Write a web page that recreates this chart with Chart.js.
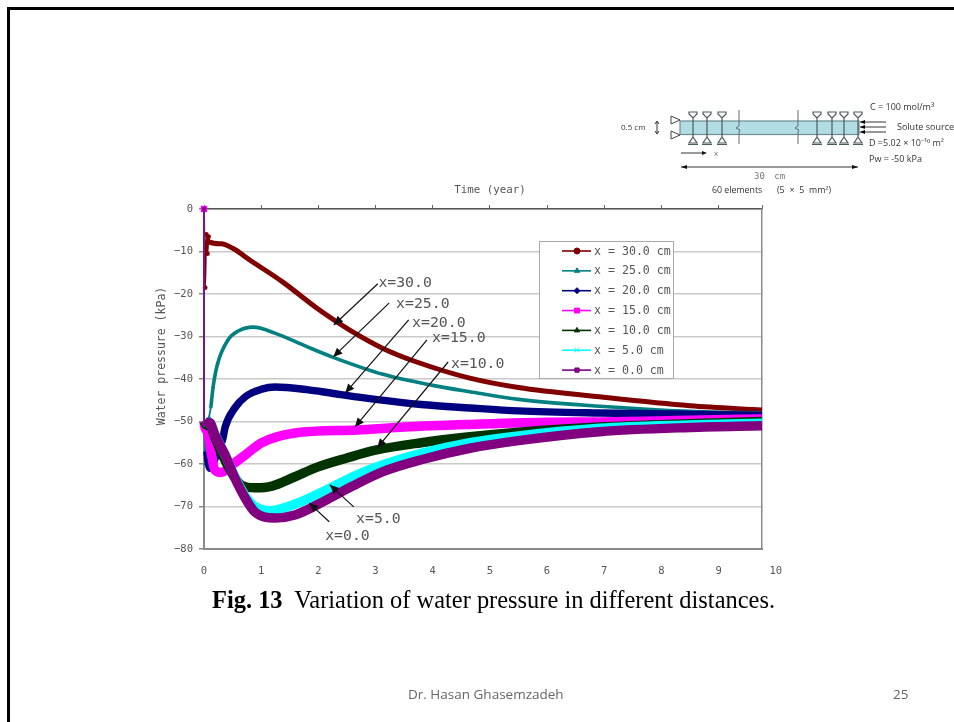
<!DOCTYPE html>
<html>
<head>
<meta charset="utf-8">
<script src="https://cdn.jsdelivr.net/npm/chart.js@4"></script>
<style>
  html, body { margin: 0; padding: 0; background: #fff; width: 954px; height: 722px; overflow: hidden; }
  #plot { position: absolute; left: 0; top: 0; filter: blur(0.35px); }
  .frame { position: absolute; background: #000; }
  .txt { position: absolute; white-space: nowrap; }
  #caption { left: 212px; top: 586px; font: 24.45px "Liberation Serif", serif; color: #000; }
  #author { left: 408px; top: 685px; font: 13.5px "Open Sans", sans-serif; color: #666; }
  #page { left: 893px; top: 685px; font: 13.5px "Open Sans", sans-serif; color: #666; }
  #sketch { position: absolute; left: 600px; top: 95px; filter: blur(0.45px); }
</style>
</head>
<body>
<div class="frame" style="left:7px;top:7px;width:947px;height:3px"></div>
<div class="frame" style="left:7px;top:7px;width:3px;height:715px"></div>

<svg id="sketch" width="354" height="105" viewBox="600 95 354 105" font-family="Open Sans, sans-serif" fill="#333">
  <rect x="680" y="121" width="179" height="13.5" fill="#b2dde4" stroke="#6d8a8e" stroke-width="1.2"/>
  <g id="rollers" stroke="#4b5a5c" stroke-width="1.2" fill="none"></g>
  <path d="M739 110V126l-3 2 4 2-1 2V144M798 110V126l-3 2 4 2-1 2V144" stroke="#667" stroke-width="1" fill="none"/>
  <path d="M671 116l9 4-9 4zM671 131l9 4-9 4z" fill="#fff" stroke="#444"/>
  <path d="M657 122v11M655 124l2-3 2 3M655 131l2 3 2-3" stroke="#333" fill="none"/>
  <path d="M860 122H886M860 127H886M860 132H886" stroke="#333"/>
  <path d="M860 122l5-2v4zM860 127l5-2v4zM860 132l5-2v4z" fill="#000"/>
  <path d="M681 153H703M681 167H858" stroke="#333"/>
  <path d="M707 153l-5-2v4zM681 167l6-2v4zM858 167l-6-2v4z" fill="#111"/>
  <text x="621" y="130" font-size="8">0.5 cm</text>
  <text x="870" y="110" font-size="9">C = 100 mol/m³</text>
  <text x="897" y="130" font-size="9">Solute source</text>
  <text x="869" y="146" font-size="9">D =5.02 × 10⁻¹⁰ m²</text>
  <text x="869" y="162" font-size="9">Pw = -50 kPa</text>
  <text x="714" y="156" font-size="8" fill="#777">x</text>
  <text x="754" y="179" font-size="9" word-spacing="4" font-family="DejaVu Sans Mono, monospace" fill="#777">30 cm</text>
  <text x="712" y="193" font-size="8.8">60 elements</text>
  <text x="777" y="193" font-size="8.8" word-spacing="2.5">(5 × 5 mm²)</text>
</svg>

<canvas id="plot" width="954" height="722"></canvas>

<div class="txt" id="caption"><b>Fig. 13</b>&nbsp; Variation of water pressure in different distances.</div>
<div class="txt" id="author">Dr. Hasan Ghasemzadeh</div>
<div class="txt" id="page">25</div>

<script>
// values
const seriesNames = ['x = 30.0 cm', 'x = 25.0 cm', 'x = 20.0 cm', 'x = 15.0 cm', 'x = 10.0 cm', 'x = 5.0 cm', 'x = 0.0 cm'];
const xTickValues = [0, 1, 2, 3, 4, 5, 6, 7, 8, 9, 10];

const timeX30 = [0, 0.02, 0.04, 0.06, 0.08, 0.1, 0.3, 0.51, 0.8, 1.38, 1.97, 2.55, 3.13, 3.72, 4.65, 5.5, 6.92, 8.5, 9.76];
const pressX30 = [0, -18.5, -6, -10.5, -6.5, -7.8, -8.2, -9.3, -12, -17.2, -23.3, -28.5, -32.8, -36, -39.8, -42, -44.2, -46.3, -47.3];

const timeX25 = [0, 0.02, 0.05, 0.09, 0.12, 0.16, 0.24, 0.42, 0.6, 0.86, 1.24, 1.8, 2.26, 3.13, 4, 4.65, 5.5, 6.92, 8.5, 9.76];
const pressX25 = [-50, -60, -55, -49, -46.6, -41.8, -36.3, -30.8, -28.7, -27.8, -29.2, -32.4, -34.9, -38.9, -41.5, -43, -44.8, -46.4, -47.6, -48];

const timeX20 = [0, 0.05, 0.1, 0.2, 0.33, 0.37, 0.54, 0.72, 1.01, 1.24, 1.8, 2.26, 3, 3.8, 4.65, 5.5, 6.92, 8.5, 9.76];
const pressX20 = [-50, -57, -61, -58.5, -54, -51.3, -46.8, -44.2, -42.4, -41.9, -42.5, -43.4, -44.8, -46, -46.8, -47.5, -48, -48.3, -48.6];

const timeX15 = [0, 0.001, 0.05, 0.12, 0.19, 0.3, 0.49, 0.72, 1.01, 1.59, 2.67, 3.5, 4.65, 6, 6.92, 8.5, 9.76];
const pressX15 = [0, -50, -52, -57, -61.4, -62, -60.2, -57.9, -55, -52.7, -52, -51.3, -50.7, -50.2, -50.1, -49.7, -49.4];

const timeX10 = [0, 0.001, 0.1, 0.2, 0.4, 0.66, 0.89, 1.19, 1.59, 1.97, 2.5, 3.02, 3.8, 4.65, 5.5, 6.92, 8.5, 9.76];
const pressX10 = [0, -50, -51, -54, -60, -65, -65.6, -65.2, -63, -60.8, -58.6, -56.7, -55, -53.6, -52.5, -51.3, -50.5, -50];

const timeX5 = [0, 0.001, 0.1, 0.19, 0.37, 0.54, 0.72, 0.89, 1.15, 1.56, 2.2, 2.6, 3.13, 3.8, 4.65, 5.5, 6.92, 8.5, 9.76];
const pressX5 = [0, -50, -50.3, -53, -57.9, -63, -67.5, -70, -71, -69.6, -65.7, -63, -60.2, -57.5, -55, -53.4, -51.6, -50.8, -50.4];

const timeX0 = [0, 0.001, 0.1, 0.19, 0.37, 0.54, 0.72, 0.89, 1.24, 1.59, 2.15, 2.6, 3.13, 3.8, 4.65, 5.5, 6.92, 8.5, 9.76];
const pressX0 = [0, -50, -50.3, -53.2, -57.9, -63.3, -68, -71.3, -72.7, -72, -68.4, -65.2, -61.8, -59, -56.3, -54.5, -52.4, -51.4, -51];

// arrow labels, positions in axis units
const calloutNames = ['x=30.0', 'x=25.0', 'x=20.0', 'x=15.0', 'x=10.0', 'x=5.0', 'x=0.0'];
const calloutTextT = [3.05, 3.36, 3.64, 3.99, 4.32, 2.66, 2.12];
const calloutTextP = [-17.4, -22.4, -26.8, -30.4, -36.5, -72.9, -76.9];
const arrowFromT = [3.04, 3.24, 3.58, 3.9, 4.27, 2.62, 2.19];
const arrowFromP = [-17.6, -22.1, -26.1, -30.8, -36, -70.1, -73.6];
const arrowTipT = [2.27, 2.26, 2.47, 2.64, 3.03, 2.2, 1.84];
const arrowTipP = [-27.3, -34.8, -43.3, -51.3, -56.2, -64.9, -69.2];

const mono = '"DejaVu Sans Mono", monospace';
const rollerX = [693, 707, 722, 817, 832, 844, 858];

// little supports of the sketch
document.getElementById('rollers').innerHTML = rollerX.map(x =>
  `<path d="M${x} 118V137M${x - 4} 112h8v2l-4 4-4-4zM${x - 4} 143h8l-4-6zM${x - 5} 144.5h10"/>`
).join('');

function pairs(ts, ps) {
  return ts.map((t, i) => ({ x: t, y: ps[i] }));
}

// the first segments (the jump at t = 0) are thin, the rest looks thick from the dense markers
function makeSeries(i, ts, ps, color, width, style, markerRadius, markedPoints, thinSegments, order) {
  return {
    label: seriesNames[i],
    data: pairs(ts, ps),
    borderColor: color,
    backgroundColor: color,
    borderWidth: width,
    borderJoinStyle: 'round',
    pointStyle: style,
    pointRadius: ctx => (ctx.dataIndex < markedPoints ? markerRadius : 0),
    pointBorderWidth: 0,
    cubicInterpolationMode: 'monotone',
    clip: false,
    segment: { borderWidth: ctx => (ctx.p0DataIndex < thinSegments ? 1.8 : undefined) },
    order: order,
  };
}

const legendAndNotes = {
  id: 'legendAndNotes',
  afterDatasetsDraw(chart) {
    const { ctx, scales } = chart;
    const sx = scales.x, sy = scales.y;
    ctx.save();

    // arrows
    arrowFromT.forEach((t, i) => {
      const x0 = sx.getPixelForValue(t), y0 = sy.getPixelForValue(arrowFromP[i]);
      const x1 = sx.getPixelForValue(arrowTipT[i]), y1 = sy.getPixelForValue(arrowTipP[i]);
      const a = Math.atan2(y1 - y0, x1 - x0);
      ctx.strokeStyle = '#111';
      ctx.fillStyle = '#111';
      ctx.lineWidth = 1.2;
      ctx.beginPath();
      ctx.moveTo(x0, y0);
      ctx.lineTo(x1, y1);
      ctx.stroke();
      ctx.beginPath();
      ctx.moveTo(x1, y1);
      ctx.lineTo(x1 - 10 * Math.cos(a - 0.42), y1 - 10 * Math.sin(a - 0.42));
      ctx.lineTo(x1 - 10 * Math.cos(a + 0.42), y1 - 10 * Math.sin(a + 0.42));
      ctx.closePath();
      ctx.fill();
    });

    // arrow labels
    ctx.font = '14.8px ' + mono;
    ctx.fillStyle = '#555';
    ctx.textBaseline = 'middle';
    ctx.textAlign = 'left';
    calloutNames.forEach((name, i) => {
      ctx.fillText(name, sx.getPixelForValue(calloutTextT[i]), sy.getPixelForValue(calloutTextP[i]));
    });

    // legend box
    ctx.fillStyle = '#fff';
    ctx.strokeStyle = '#aaa';
    ctx.lineWidth = 1;
    ctx.fillRect(539.5, 241.5, 134, 137);
    ctx.strokeRect(539.5, 241.5, 134, 137);
    chart.data.datasets.forEach((ds, i) => {
      const y = 251 + i * 19.85;
      ctx.strokeStyle = ds.borderColor;
      ctx.lineWidth = 1.6;
      ctx.beginPath();
      ctx.moveTo(562, y);
      ctx.lineTo(591, y);
      ctx.stroke();
      ctx.fillStyle = ds.borderColor;
      ctx.lineWidth = 1;
      Chart.helpers.drawPoint(ctx, { pointStyle: ds.pointStyle, radius: i === 3 ? 3.5 : 3, rotation: 0, borderWidth: 1 }, 577, y);
      ctx.fillStyle = '#555';
      ctx.font = '11.6px ' + mono;
      ctx.fillText(ds.label, 594, y + 0.5);
    });

    // axis names
    ctx.fillStyle = '#555';
    ctx.textAlign = 'center';
    ctx.font = '10.8px ' + mono;
    ctx.fillText('Time (year)', 490, 190);
    ctx.font = '11.5px ' + mono;
    ctx.translate(162, 356);
    ctx.rotate(-Math.PI / 2);
    ctx.fillText('Water pressure (kPa)', 0, 0);
    ctx.restore();
  },
};

new Chart(document.getElementById('plot').getContext('2d'), {
  type: 'scatter',
  data: {
    datasets: [
      makeSeries(0, timeX30, pressX30, '#800000', 5, 'circle', 2.4, 6, 5, 6),
      makeSeries(1, timeX25, pressX25, '#008080', 3.6, 'triangle', 2.4, 8, 4, 5),
      makeSeries(2, timeX20, pressX20, '#000080', 7.5, 'rectRot', 0, 0, 1, 4),
      makeSeries(3, timeX15, pressX15, '#ff00ff', 9.5, 'rect', 4.5, 1, 1, 3),
      makeSeries(4, timeX10, pressX10, '#003300', 9.5, 'triangle', 0, 0, 1, 2),
      makeSeries(5, timeX5, pressX5, '#00ffff', 9.5, 'crossRot', 0, 0, 1, 1),
      makeSeries(6, timeX0, pressX0, '#800080', 9.5, 'rect', 2.5, 1, 1, 0),
    ],
  },
  options: {
    responsive: false,
    animation: false,
    showLine: true,
    layout: { padding: { left: 150, top: 205, right: 192, bottom: 139 } },
    plugins: {
      legend: { display: false },
      tooltip: { enabled: false },
    },
    scales: {
      x: {
        type: 'linear',
        min: 0,
        max: 9.76,
        afterBuildTicks(axis) {
          axis.ticks = xTickValues.map(v => ({ value: v }));
        },
        afterFit(axis) { axis.height = 34; },
        grid: { display: false },
        border: { color: '#8a8a8a', width: 2 },
        ticks: { autoSkip: false, maxRotation: 0, padding: 8, color: '#555', font: { family: mono, size: 10.5 } },
      },
      top: {
        type: 'linear',
        position: 'top',
        min: 0,
        max: 9.76,
        afterFit(axis) { axis.height = 4; },
        grid: { drawOnChartArea: false, tickLength: 4, color: '#666' },
        border: { color: '#555', width: 1.5 },
        ticks: { stepSize: 1, display: false },
      },
      y: {
        min: -80,
        max: 0,
        afterFit(axis) { axis.width = 54; },
        grid: { color: '#c9c9c9', lineWidth: 1.5, tickLength: 5, tickColor: '#888' },
        border: { color: '#8a8a8a', width: 2 },
        ticks: {
          stepSize: 10,
          padding: 6,
          color: '#555',
          font: { family: mono, size: 10.5 },
          callback: v => String(v).replace('-', '\u2212'),
        },
      },
      right: {
        position: 'right',
        min: -80,
        max: 0,
        afterFit(axis) { axis.width = 0; },
        grid: { display: false },
        border: { color: '#8a8a8a', width: 1.5 },
        ticks: { display: false },
      },
    },
  },
  plugins: [legendAndNotes],
});
</script>
</body>
</html>
